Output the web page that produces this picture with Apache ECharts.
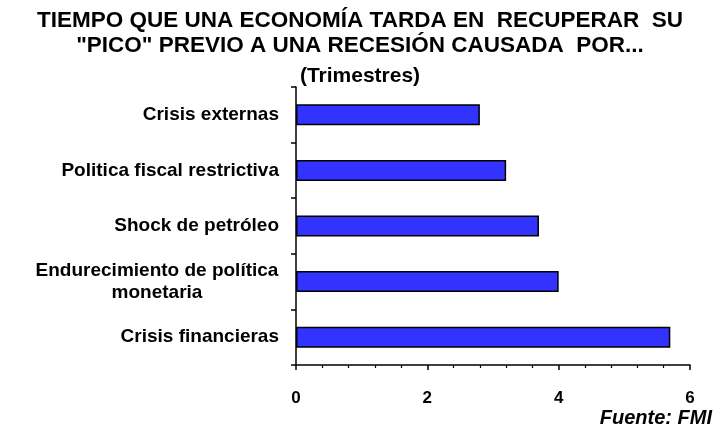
<!DOCTYPE html>
<html>
<head>
<meta charset="utf-8">
<script src="https://cdn.jsdelivr.net/npm/echarts@6/dist/echarts.min.js"></script>
<style>
  html, body { margin: 0; padding: 0; background: #fff; }
  #chart { width: 720px; height: 427px; }
</style>
</head>
<body>
<div id="chart"></div>
<script>
// categorías (de abajo hacia arriba)
const categories = [
  'Crisis financieras',
  'Endurecimiento de política\nmonetaria',
  'Shock de petróleo',
  'Politica fiscal restrictiva',
  'Crisis externas'
]
// trimestres hasta recuperar el pico
const quarters = [5.7, 4.0, 3.7, 3.2, 2.8]
const xTicks = [0, 2, 4, 6]

const FONT = '"Liberation Sans", Arial, sans-serif'

const chart = echarts.init(document.getElementById('chart'))
chart.setOption({
  animation: false,
  textStyle: { fontFamily: FONT },
  title: [
    {
      text: 'TIEMPO QUE UNA ECONOMÍA TARDA EN  RECUPERAR  SU\n"PICO" PREVIO A UNA RECESIÓN CAUSADA  POR...',
      left: 'center',
      top: 8,
      padding: 0,
      textStyle: { fontSize: 22.5, fontWeight: 'bold', color: '#000', lineHeight: 25, fontFamily: FONT }
    },
    {
      text: '(Trimestres)',
      left: 'center',
      top: 64,
      padding: 0,
      textStyle: { fontSize: 21, fontWeight: 'bold', color: '#000', lineHeight: 24, fontFamily: FONT }
    },
    {
      text: 'Fuente: FMI',
      right: 8,
      top: 407,
      padding: 0,
      textStyle: { fontSize: 20, fontWeight: 'bold', fontStyle: 'italic', color: '#000', lineHeight: 22, fontFamily: FONT }
    }
  ],
  grid: { left: 296, right: 30, top: 87, bottom: 62, containLabel: false },
  xAxis: {
    type: 'value',
    min: 0,
    max: 6,
    interval: 2,
    axisLine: { show: true, lineStyle: { color: '#000', width: 1.5 } },
    axisTick: { show: true, length: 5, lineStyle: { color: '#000', width: 1.5 } },
    minorTick: { show: true, splitNumber: 5, length: 3, lineStyle: { color: '#000', width: 1.2 } },
    splitLine: { show: false },
    axisLabel: {
      margin: 25,
      fontSize: 17,
      fontWeight: 'bold',
      color: '#000',
      formatter: v => xTicks.includes(v) ? String(v) : ''
    }
  },
  yAxis: {
    type: 'category',
    data: categories,
    axisLine: { show: true, lineStyle: { color: '#000', width: 1.5 } },
    axisTick: { show: true, length: 5, lineStyle: { color: '#000', width: 1.5 } },
    axisLabel: {
      margin: 17,
      fontSize: 19,
      fontWeight: 'bold',
      color: '#000',
      formatter: v => v.split('\n').map(s => v.includes('\n') ? '{c|' + s + '}' : s).join('\n'),
      rich: {
        c: { width: 244, align: 'center', fontSize: 19, fontWeight: 'bold', color: '#000', lineHeight: 22, fontFamily: FONT }
      }
    }
  },
  series: [{
    type: 'bar',
    data: quarters,
    barWidth: 21,
    itemStyle: { color: '#3333FF', borderColor: '#000', borderWidth: 1.5 }
  }]
})
</script>
</body>
</html>
